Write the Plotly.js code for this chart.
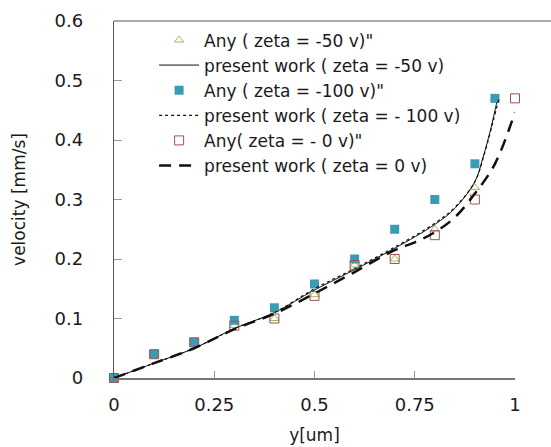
<!DOCTYPE html>
<html><head><meta charset="utf-8">
<script src="https://cdn.plot.ly/plotly-3.0.1.min.js"></script>
<style>html,body{margin:0;padding:0;background:#fff}#chart{width:551px;height:447px}</style>
</head><body><div id="chart"></div>
<script>
// data
const xAny50 = [0, 0.1, 0.2, 0.3, 0.4, 0.5, 0.6, 0.7, 0.8, 0.9, 0.95];
const yAny50 = [0, 0.04, 0.06, 0.088, 0.1, 0.14, 0.19, 0.2, 0.25, 0.32, 0.47];
const xAny100 = [0, 0.1, 0.2, 0.3, 0.4, 0.5, 0.6, 0.7, 0.8, 0.9, 0.95];
const yAny100 = [0, 0.04, 0.06, 0.097, 0.118, 0.158, 0.2, 0.25, 0.3, 0.36, 0.47];
const xAny0 = [0, 0.1, 0.2, 0.3, 0.4, 0.5, 0.6, 0.7, 0.8, 0.9, 1.0];
const yAny0 = [0, 0.04, 0.06, 0.088, 0.1, 0.138, 0.19, 0.2, 0.24, 0.3, 0.47];
const xPw50 = [0, 0.1, 0.2, 0.3, 0.4, 0.5, 0.6, 0.7, 0.8, 0.85, 0.9, 0.92, 0.94, 0.955];
const yPw50 = [0, 0.025, 0.05, 0.083, 0.11, 0.148, 0.182, 0.218, 0.258, 0.285, 0.33, 0.37, 0.42, 0.465];
const xPw100 = [0, 0.1, 0.2, 0.3, 0.4, 0.5, 0.6, 0.7, 0.8, 0.85, 0.9, 0.925, 0.945, 0.96];
const yPw100 = [0, 0.025, 0.05, 0.083, 0.11, 0.15, 0.184, 0.22, 0.26, 0.287, 0.33, 0.38, 0.43, 0.47];
const xPw0 = [0, 0.1, 0.2, 0.3, 0.4, 0.5, 0.6, 0.7, 0.75, 0.8, 0.85, 0.9, 0.95, 1.0];
const yPw0 = [0, 0.025, 0.05, 0.082, 0.108, 0.142, 0.178, 0.215, 0.228, 0.245, 0.27, 0.31, 0.36, 0.447];
const names = ['Any ( zeta = -50 v)"', 'present work ( zeta = -50 v)', 'Any ( zeta = -100 v)"',
  'present work ( zeta = - 100 v)', 'Any( zeta = - 0 v)"', 'present work ( zeta = 0 v)'];
const xTicks = [0, 0.25, 0.5, 0.75, 1];
const yTicks = [0, 0.1, 0.2, 0.3, 0.4, 0.5, 0.6];

const font = 'DejaVu Sans, sans-serif';
const traces = [
  {x: xAny50, y: yAny50, name: names[0], mode: 'markers', cliponaxis: false,
   marker: {symbol: 'triangle-up-open', size: 8, color: '#9BBB59', line: {width: 1}}},
  {x: xPw50, y: yPw50, name: names[1], mode: 'lines', line: {color: '#111', width: 1, shape: 'spline'}},
  {x: xAny100, y: yAny100, name: names[2], mode: 'markers', cliponaxis: false,
   marker: {symbol: 'square', size: 9, color: '#3A9BB5'}},
  {x: xPw100, y: yPw100, name: names[3], mode: 'lines', line: {color: '#111', width: 1.2, dash: 'dot', shape: 'spline'}},
  {x: xAny0, y: yAny0, name: names[4], mode: 'markers', cliponaxis: false,
   marker: {symbol: 'square-open', size: 9, color: '#A0524F', line: {width: 1}}},
  {x: xPw0, y: yPw0, name: names[5], mode: 'lines', line: {color: '#111', width: 2.5, dash: '12px,8px', shape: 'spline'}}
];
const layout = {
  width: 551, height: 447,
  margin: {l: 114, r: 36, t: 21, b: 69},
  paper_bgcolor: '#fff', plot_bgcolor: '#fff',
  font: {family: font, size: 16, color: '#1a1a1a'},
  showlegend: true,
  legend: {x: 0.1, y: 0.996, xanchor: 'left', yanchor: 'top', bgcolor: 'rgba(0,0,0,0)',
    font: {family: font, size: 17, color: '#1a1a1a'}, itemwidth: 40, tracegroupgap: 0},
  xaxis: {range: [0, 1], tickvals: xTicks, ticktext: xTicks.map(String), showgrid: false, zeroline: false,
    showline: true, linecolor: '#777', linewidth: 1.5, ticks: 'inside', ticklen: 7, tickcolor: '#999',
    ticklabelstandoff: 10, tickfont: {size: 18},
    title: {text: 'y[um]', font: {size: 17}, standoff: 15}},
  yaxis: {range: [0, 0.6], tickvals: yTicks, ticktext: yTicks.map(String), showgrid: false, zeroline: false,
    showline: true, linecolor: '#555', linewidth: 1.2, ticks: 'inside', ticklen: 8, tickcolor: '#999',
    ticklabelstandoff: 26, tickfont: {size: 18},
    title: {text: 'velocity [mm/s]', font: {size: 17}, standoff: 24}},
  shapes: [{type: 'line', xref: 'paper', yref: 'paper', x0: 0, x1: 1.1, y0: 1, y1: 1,
    line: {color: '#555', width: 1.2}}]
};
Plotly.newPlot('chart', traces, layout, {displayModeBar: false, staticPlot: true});
</script></body></html>
